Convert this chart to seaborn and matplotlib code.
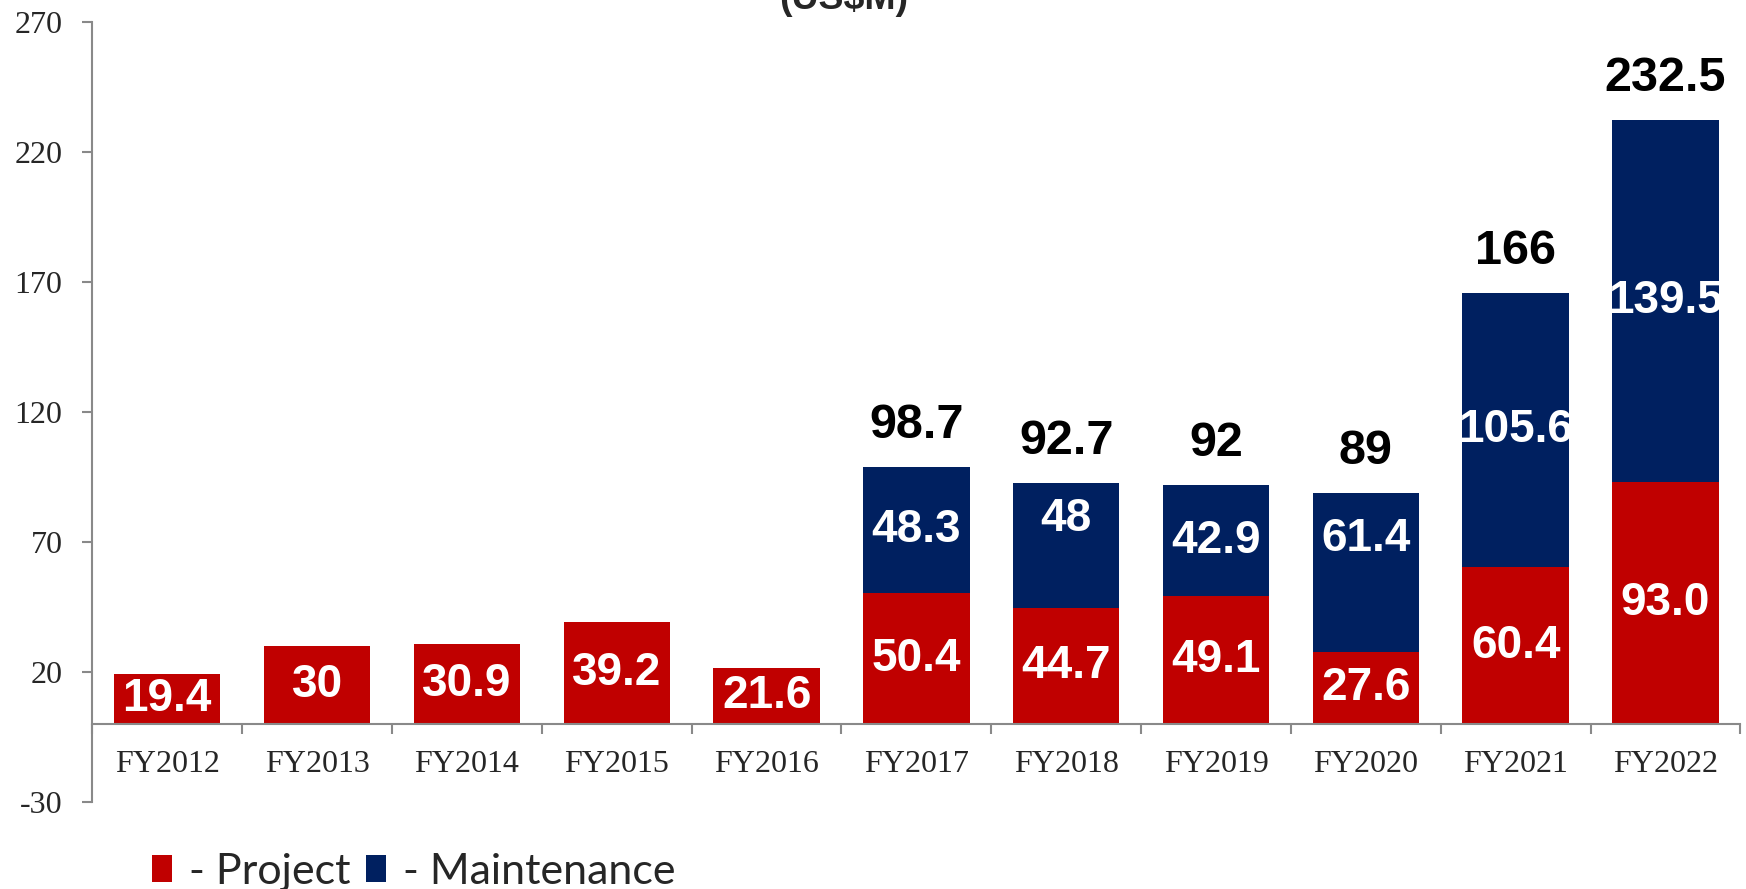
import matplotlib
matplotlib.use("Agg")
import matplotlib.pyplot as plt
from matplotlib.patches import Patch
import seaborn as sns
import numpy as np
import pandas as pd

# ---- data ----
years = ["FY2012", "FY2013", "FY2014", "FY2015", "FY2016", "FY2017",
         "FY2018", "FY2019", "FY2020", "FY2021", "FY2022"]
project = [19.4, 30, 30.9, 39.2, 21.6, 50.4, 44.7, 49.1, 27.6, 60.4, 93.0]
maintenance = [0, 0, 0, 0, 0, 48.3, 48, 42.9, 61.4, 105.6, 139.5]
project_labels = ["19.4", "30", "30.9", "39.2", "21.6", "50.4", "44.7",
                  "49.1", "27.6", "60.4", "93.0"]
maintenance_labels = ["", "", "", "", "", "48.3", "48", "42.9", "61.4",
                      "105.6", "139.5"]
total_labels = ["", "", "", "", "", "98.7", "92.7", "92", "89", "166", "232.5"]
yticks = [-30, 20, 70, 120, 170, 220, 270]
title = "(US$M)"
legend_labels = ["- Project", "- Maintenance"]

# manual nudges of some in-bar labels (value units), as in the original
maint_label_shift = {"FY2018": 10, "FY2020": 13}

RED = "#C00000"
NAVY = "#002060"
GRAY = "#898989"

sns.set_style("white")
plt.rcParams["font.family"] = ["Liberation Sans", "DejaVu Sans"]

df = pd.DataFrame({
    "year": years,
    "project": project,
    "maintenance": maintenance,
})
df["total"] = df["project"] + df["maintenance"]

fig = plt.figure(figsize=(17.46, 8.89), dpi=100)
ax = fig.add_axes([0.0529, 0.0979, 0.9439, 0.877])

sns.barplot(data=df, x="year", y="total", color=NAVY, saturation=1,
            width=0.71, linewidth=0, ax=ax)
sns.barplot(data=df, x="year", y="project", color=RED, saturation=1,
            width=0.71, linewidth=0, ax=ax)

ax.set_xlim(-0.5, len(years) - 0.5)
ax.set_ylim(-30, 270)
ax.set_xlabel("")
ax.set_ylabel("")

for s in ["top", "right"]:
    ax.spines[s].set_visible(False)
ax.spines["bottom"].set_position(("data", 0))
for s in ["left", "bottom"]:
    ax.spines[s].set_color(GRAY)
    ax.spines[s].set_linewidth(1.5)

ax.set_yticks(yticks)
ax.set_yticklabels([str(v) for v in yticks], family="Liberation Serif",
                   fontsize=23)
ax.tick_params(axis="y", direction="out", length=7.5, width=1.5,
               color=GRAY, pad=14, left=True)

ax.set_xticks(range(len(years)))
ax.set_xticklabels(years, family="Liberation Serif", fontsize=23)
ax.tick_params(axis="x", which="major", length=0, pad=19, bottom=True)
ax.set_xticks(np.arange(-0.5, len(years), 1), minor=True)
ax.tick_params(axis="x", which="minor", direction="out", length=7.5,
               width=1.5, color=GRAY, bottom=True)

# in-bar labels
for i, yr in enumerate(years):
    p = project[i]
    m = maintenance[i]
    ax.text(i, p / 2, project_labels[i], ha="center", va="center",
            color="white", fontsize=33, fontweight="bold")
    if m > 0:
        yc = p + m / 2 + maint_label_shift.get(yr, 0)
        ax.text(i, yc, maintenance_labels[i], ha="center", va="center",
                color="white", fontsize=33, fontweight="bold")
        ax.text(i, p + m + 16, total_labels[i], ha="center", va="center",
                color="black", fontsize=35, fontweight="bold")

fig.text(0.483, 0.990, title, ha="center", va="baseline", fontsize=27,
         fontweight="bold")

handles = [Patch(facecolor=RED, edgecolor="none"),
           Patch(facecolor=NAVY, edgecolor="none")]
fig.legend(handles, legend_labels, loc="lower left",
           bbox_to_anchor=(152 / 1746, -0.002), ncol=2, frameon=False,
           prop={"family": "Lato", "size": 31},
           handlelength=0.47, handleheight=0.56, handletextpad=0.4,
           columnspacing=0.35, borderpad=0, borderaxespad=0)

fig.savefig("out.png", dpi=100)
